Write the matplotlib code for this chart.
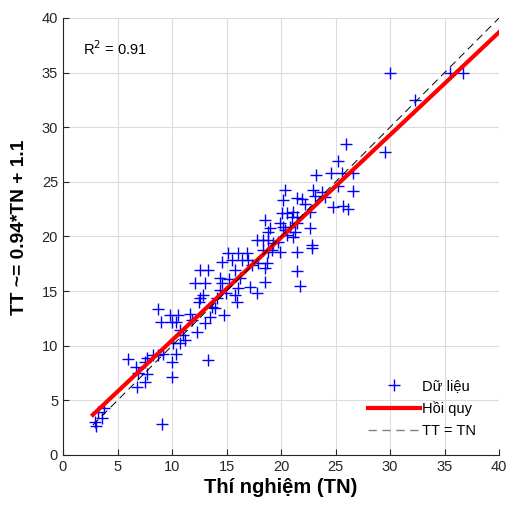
import numpy as np
import matplotlib.pyplot as plt

plt.rcParams['font.family'] = ['Liberation Sans', 'DejaVu Sans']

tn = [3.79, 3.24, 3.55, 2.94, 3.03, 9.06, 5.99, 6.70, 6.91, 7.73,
      7.52, 7.73, 7.52, 6.82, 8.28, 8.74, 9.15, 10.03, 10.03, 10.37,
      10.12, 10.73, 11.19, 11.04, 10.73, 12.27, 11.65, 11.81, 8.67, 8.99,
      9.77, 10.55, 10.00, 10.37, 13.33, 13.03, 12.57, 12.82, 12.11, 13.03,
      13.49, 14.77, 13.64, 13.94, 12.45, 14.10, 14.40, 14.95, 15.78, 15.94,
      16.08, 17.16, 17.77, 18.53, 14.40, 15.26, 14.56, 16.24, 12.57, 13.33,
      15.78, 14.56, 15.48, 16.39, 17.00, 17.31, 17.92, 18.69, 18.53, 15.17,
      16.08, 16.85, 17.77, 18.32, 18.83, 19.29, 19.75, 18.38, 18.83, 19.91,
      21.44, 18.53, 18.99, 18.83, 19.91, 20.16, 20.37, 21.28, 20.83, 20.06,
      20.52, 21.13, 20.37, 20.16, 21.44, 21.47, 21.74, 21.93, 22.20, 22.96,
      23.73, 23.12, 24.04, 23.21, 24.56, 25.60, 26.63, 25.26, 26.63, 24.77,
      25.72, 26.17, 22.66, 21.44, 22.66, 25.96, 25.23, 29.54, 22.82, 22.82,
      30.00, 32.29, 35.50, 36.67, 20.98, 21.44, 20.52, 21.13, 19.15]
tt = [4.27, 3.96, 3.36, 3.05, 2.65, 2.84, 8.79, 8.03, 7.48, 8.85,
      8.54, 7.41, 6.71, 6.20, 9.15, 9.15, 9.24, 8.54, 7.17, 9.24,
      10.22, 10.22, 10.53, 10.98, 11.44, 11.29, 12.91, 12.36, 13.32, 12.13,
      12.77, 12.77, 12.13, 12.13, 8.70, 12.05, 14.34, 14.65, 15.77, 15.77,
      12.66, 12.81, 13.57, 13.43, 14.03, 14.34, 15.10, 14.80, 14.65, 14.03,
      15.26, 15.41, 14.80, 15.86, 16.17, 16.08, 15.77, 16.17, 16.93, 16.93,
      16.93, 17.69, 17.85, 17.85, 17.85, 17.39, 17.55, 17.55, 17.09, 18.52,
      18.52, 18.52, 19.68, 19.68, 19.68, 19.38, 19.52, 18.76, 18.61, 18.61,
      18.61, 21.51, 20.75, 20.44, 21.21, 20.90, 20.59, 20.44, 20.90, 22.12,
      22.12, 22.27, 24.26, 23.34, 23.50, 16.84, 15.47, 23.43, 22.97, 24.26,
      24.10, 23.66, 23.62, 25.63, 25.81, 25.81, 25.81, 24.62, 24.16, 22.70,
      22.79, 22.52, 22.27, 21.21, 20.75, 28.47, 26.91, 27.76, 19.22, 18.92,
      34.94, 32.49, 34.94, 34.94, 21.81, 21.81, 20.14, 19.98, 18.76]

slope = 0.94
intercept = 1.1
r2 = 0.91

fig = plt.figure(figsize=(5.12, 5.11), dpi=100)
ax = fig.add_axes([0.123, 0.1096, 0.852, 0.8554])

ax.plot(tn, tt, '+', color='blue', markersize=9, markeredgewidth=1.0, label='Dữ liệu')
xl = np.array([min(tn) - 0.2, 40])
ax.plot(xl, slope * xl + intercept, color='red', lw=3, label='Hồi quy')
ax.plot(xl, xl, color='black', lw=0.7, dashes=(8, 5), label='TT = TN')

ax.set_xlim(0, 40)
ax.set_ylim(0, 40)
ax.set_xticks(range(0, 41, 5))
ax.set_yticks(range(0, 41, 5))
ax.grid(True, color='#dcdcdc', lw=0.8)
ax.set_axisbelow(True)
for s in ['top', 'right']:
    ax.spines[s].set_visible(False)
for s in ['left', 'bottom']:
    ax.spines[s].set_color('#262626')
ax.tick_params(direction='in', labelsize=10.5, colors='#262626', length=4)

ax.set_xlabel('Thí nghiệm (TN)', fontsize=14.5, fontweight='bold', labelpad=3)
ax.set_ylabel('TT ~= 0.94*TN + 1.1', fontsize=13.8, fontweight='bold')
ax.yaxis.set_label_coords(-0.08, 0.52)

ax.text(0.046, 0.93, 'R$^2$ = %.2f' % r2, transform=ax.transAxes, fontsize=10.5, va='center')

leg = ax.legend(loc='lower right', frameon=False, fontsize=10.5, handlelength=3.6,
                bbox_to_anchor=(0.976, 0.008), labelspacing=0.55, handletextpad=0.1)
dash = leg.legend_handles[2]
dash.set_color('gray')
dash.set_linewidth(1.0)
dash.set_dashes((6, 4))

fig.savefig('out.png', dpi=100)
